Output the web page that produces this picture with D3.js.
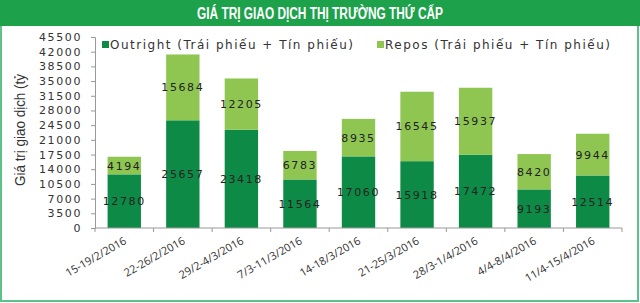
<!DOCTYPE html>
<html>
<head>
<meta charset="utf-8">
<script src="https://cdn.jsdelivr.net/npm/d3@7/dist/d3.min.js"></script>
<style>
  body { margin: 0; background: #fff; }
  svg { display: block; }
</style>
</head>
<body>
<svg id="chart" width="640" height="303"></svg>
<script>
const weeks = ['15-19/2/2016', '22-26/2/2016', '29/2-4/3/2016', '7/3-11/3/2016', '14-18/3/2016',
  '21-25/3/2016', '28/3-1/4/2016', '4/4-8/4/2016', '11/4-15/4/2016']
const outright = [12780, 25657, 23418, 11564, 17060, 15918, 17472, 9193, 12514]
const repos = [4194, 15684, 12205, 6783, 8935, 16545, 15937, 8420, 9944]
const seriesNames = ['Outright (Trái phiếu + Tín phiếu)', 'Repos (Trái phiếu + Tín phiếu)']
const yTicks = d3.range(0, 45501, 3500)

const colors = ['#0e8a47', '#8fc652']
const svg = d3.select('#chart')
const W = 640, H = 303
const m = { top: 37, right: 18, bottom: 75, left: 95 }

// frame + title banner
svg.append('rect').attr('x', 1).attr('y', 1).attr('width', W - 3).attr('height', H - 3)
  .attr('fill', '#fff').attr('stroke', '#5cc28a').attr('stroke-width', 2)
svg.append('rect').attr('x', 0).attr('y', 0).attr('width', W).attr('height', 26).attr('fill', '#1da24b')
svg.append('text').attr('x', W / 2).attr('y', 19).attr('text-anchor', 'middle')
  .attr('font-family', 'Liberation Sans, sans-serif')
  .attr('font-weight', 'bold').attr('font-size', 16).attr('fill', '#fff')
  .attr('textLength', 246).attr('lengthAdjust', 'spacingAndGlyphs')
  .text('GIÁ TRỊ GIAO DỊCH THỊ TRƯỜNG THỨ CẤP')

const x = d3.scaleBand().domain(weeks).range([m.left, W - m.right]).paddingInner(0.43).paddingOuter(0.215)
const y = d3.scaleLinear().domain([0, 45500]).range([H - m.bottom, m.top])

const rows = weeks.map((w, i) => ({ week: w, outright: outright[i], repos: repos[i] }))
const stacked = d3.stack().keys(['outright', 'repos'])(rows)

const layers = svg.append('g').selectAll('g').data(stacked).join('g')
  .attr('fill', (d, i) => colors[i])
layers.selectAll('rect').data(d => d).join('rect')
  .attr('x', d => x(d.data.week))
  .attr('y', d => y(d[1]))
  .attr('width', x.bandwidth())
  .attr('height', d => y(d[0]) - y(d[1]))

// value labels
const font = 'DejaVu Sans, Verdana, sans-serif'
layers.selectAll('text').data(d => d).join('text')
  .attr('x', d => x(d.data.week) + x.bandwidth() / 2)
  .attr('y', d => (y(d[0]) + y(d[1])) / 2 + 4)
  .attr('text-anchor', 'middle')
  .attr('font-family', font).attr('font-size', 11).attr('letter-spacing', 1.6)
  .attr('fill', '#222')
  .text(d => d[1] - d[0])

// y axis
const yAxis = svg.append('g').attr('transform', `translate(${m.left},0)`)
  .call(d3.axisLeft(y).tickValues(yTicks).tickSize(4).tickPadding(9).tickFormat(d3.format('d')))
yAxis.selectAll('path, line').attr('stroke', '#999')
yAxis.selectAll('text').attr('font-family', font).attr('font-size', 11)
  .attr('letter-spacing', 1.6).attr('fill', '#333')

// x axis: tick marks between categories
const xAxis = svg.append('g').attr('transform', `translate(0,${y(0)})`)
xAxis.append('line').attr('x1', m.left).attr('x2', W - m.right).attr('stroke', '#999')
xAxis.selectAll('line.tick').data(d3.range(weeks.length + 1)).join('line')
  .attr('class', 'tick')
  .attr('x1', i => m.left + i * (W - m.left - m.right) / weeks.length)
  .attr('x2', i => m.left + i * (W - m.left - m.right) / weeks.length)
  .attr('y1', 0).attr('y2', 4).attr('stroke', '#999')
xAxis.selectAll('text').data(weeks).join('text')
  .attr('transform', d => `translate(${x(d) + x.bandwidth() / 2 + 3},${15}) rotate(-30)`)
  .attr('text-anchor', 'end')
  .attr('font-family', 'Open Sans, sans-serif').attr('font-size', 11).attr('fill', '#333')
  .text(d => d)

// y title
svg.append('text')
  .attr('transform', 'translate(25,130) rotate(-90)')
  .attr('text-anchor', 'middle')
  .attr('font-family', 'Liberation Sans, sans-serif').attr('font-size', 15)
  .attr('textLength', 112).attr('lengthAdjust', 'spacingAndGlyphs')
  .attr('fill', '#333')
  .text('Giá trị giao dịch (tỷ')

// legend
const legend = svg.append('g').attr('transform', 'translate(102,45)')
const lx = [0, 275]
seriesNames.forEach((name, i) => {
  const g = legend.append('g').attr('transform', `translate(${lx[i]},0)`)
  g.append('rect').attr('x', 0).attr('y', -4).attr('width', 7).attr('height', 7).attr('fill', colors[i])
  g.append('text').attr('x', 8).attr('y', 4).attr('font-family', font).attr('font-size', 12)
    .attr('letter-spacing', 1.5).attr('fill', '#333').text(name)
})
</script>
</body>
</html>
